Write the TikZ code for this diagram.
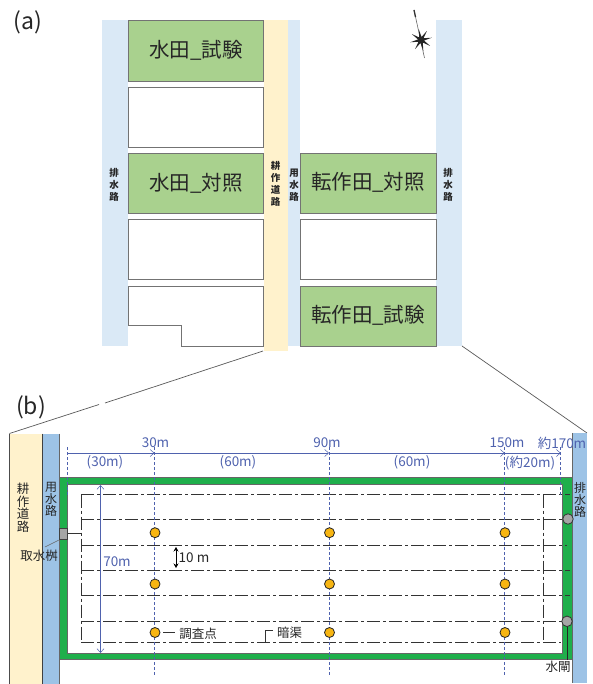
\documentclass[tikz,border=0pt]{standalone}
\usepackage{fontspec}
\setmainfont{Noto Sans CJK JP}
\usetikzlibrary{shapes.geometric,arrows.meta}
\definecolor{drainpale}{HTML}{DAE9F6}
\definecolor{roadpale}{HTML}{FFF2CC}
\definecolor{fieldgreen}{HTML}{A9D18E}
\definecolor{canalblue}{HTML}{9DC3E6}
\definecolor{bundgreen}{HTML}{1FAF4B}
\definecolor{pointorange}{HTML}{F7B512}
\definecolor{dimblue}{HTML}{4F62AE}
\definecolor{textgray}{HTML}{262626}
\tikzset{
  plotbox/.style = {draw=black!55, line width=.9pt, fill=white},
  testbox/.style = {plotbox, fill=fieldgreen},
  plotname/.style = {text=textgray, inner sep=0pt, font=\fontsize{20.5}{20.5}\selectfont},
  stacked/.style = {align=center, text=textgray, inner sep=0pt, font=\fontsize{#1}{#1}\selectfont},
  stackedsmall/.style = {align=center, text=textgray, inner sep=0pt, font=\bfseries\fontsize{9.5}{12}\selectfont},
  panel/.style = {text=textgray, inner sep=0pt, font=\fontsize{23}{23}\selectfont},
  dimtext/.style = {text=dimblue, inner sep=0pt, font=\fontsize{13.5}{13.5}\selectfont},
  dimline/.style = {draw=dimblue, line width=.5pt, -{Straight Barb[length=4pt,width=7pt]}},
  surveyline/.style = {draw=dimblue, line width=.7pt, dash pattern=on 3pt off 2pt},
  pipe/.style = {draw=black!80, line width=.9pt, dash pattern=on 13pt off 3pt on 3pt off 3pt},
  surveypt/.style = {circle, draw=black!85, line width=.8pt, fill=pointorange, minimum size=10pt, inner sep=0pt},
  gate/.style = {circle, draw=black!80, line width=.8pt, fill=black!35, minimum size=10.5pt, inner sep=0pt},
  zoomline/.style = {draw=black!65, line width=.7pt},
  note/.style = {text=textgray, inner sep=0pt, font=\fontsize{12.5}{12.5}\selectfont}
}
\begin{document}
\begin{tikzpicture}[x=1pt, y=-1pt]
  \useasboundingbox (0,0) rectangle (592,684);
  % upper map
  \fill[drainpale] (102,20) rectangle (128,346);
  \fill[drainpale] (288,20) rectangle (300,346);
  \fill[drainpale] (436,20) rectangle (462,346);
  \fill[roadpale] (264,20) rectangle (288,351);
  \draw[testbox] (128,20) rectangle (263.5,81);
  \draw[plotbox] (128,87) rectangle (263.5,147);
  \draw[testbox] (128,153) rectangle (263.5,213);
  \draw[plotbox] (128,219) rectangle (263.5,279);
  \draw[plotbox] (128,286) -- (263.5,286) -- (263.5,346) -- (181.5,346) -- (181.5,325.5) -- (128,325.5) -- cycle;
  \draw[testbox] (300,153) rectangle (436,213);
  \draw[plotbox] (300,219) rectangle (436,279);
  \draw[testbox] (300,286) rectangle (436,346);
  \node[plotname] (paddytest) at (196,50) {水田\_試験};
  \node[plotname] (paddyctrl) at (196,183) {水田\_対照};
  \node[plotname] (uplandctrl) at (368,182) {転作田\_対照};
  \node[plotname] (uplandtest) at (368,315) {転作田\_試験};
  \node[stackedsmall] (drainw) at (114,185) {排\\水\\路};
  \node[stackedsmall] (roadn) at (275.5,184) {耕\\作\\道\\路};
  \node[stackedsmall] (feedn) at (294,185) {用\\水\\路};
  \node[stackedsmall] (draine) at (448,185) {排\\水\\路};
  \node[panel] (panela) at (28,22) {(a)};
  \node[panel] (panelb) at (31,407) {(b)};
  % north mark
  \coordinate (northtop) at (414,10);
  \coordinate (northend) at (424.5,58);
  \draw[black!60, line width=.6pt] (northtop) -- (northend);
  \draw[black!80, line width=1.3pt] (northtop) -- (415.5,17);
  \node[star, star points=8, star point ratio=3.6, shape border rotate=12, fill=black!85, minimum size=22pt, inner sep=0pt] (northstar) at (421,40) {};
  % zoom lines
  \coordinate (zooma) at (263,351);
  \coordinate (zoomb) at (105,403);
  \coordinate (zoomc) at (99,404.5);
  \coordinate (zoomd) at (9.5,433.5);
  \coordinate (zoome) at (462,346);
  \coordinate (zoomf) at (587,433);
  \draw[zoomline] (zooma) -- (zoomb);
  \draw[zoomline] (zoomc) -- (zoomd);
  \draw[zoomline] (zoome) -- (zoomf);
  % lower plot
  \fill[roadpale] (9.5,433.5) rectangle (42.5,684);
  \fill[canalblue] (43,433.5) rectangle (59,684);
  \fill[canalblue] (572,433) rectangle (587,683);
  \draw[black!70, line width=.8pt] (9.5,433.5) -- (9.5,684);
  \draw[black!75, line width=1.2pt] (42.5,433.5) -- (42.5,684);
  \draw[black!60, line width=.7pt] (59,433.5) -- (59,684);
  \draw[black!60, line width=.7pt] (572,433) -- (572,683);
  \draw[black!60, line width=.7pt, fill=bundgreen] (59,477) rectangle (572,659.5);
  \draw[black!60, line width=.7pt, fill=white] (67.7,484) rectangle (562,653);
  \foreach \yy/\xend in {494.7/570,519/564,545/567,570.3/570,595.3/570,621.3/563,642.3/561}
    \draw[pipe] (81,\yy) -- (\xend,\yy);
  \draw[pipe] (81,494.7) -- (81,642.3);
  \draw[pipe] (543,494.7) -- (543,642.3);
  % survey lines
  \coordinate (dim0) at (67,453);
  \coordinate (dim1) at (154.5,453);
  \coordinate (dim2) at (329,453);
  \coordinate (dim3) at (504.7,453);
  \coordinate (dim4) at (560.7,453);
  \draw[surveyline] (67,447) -- (67,495);
  \draw[surveyline] (154.5,447) -- (154.5,675);
  \draw[surveyline] (329,447) -- (329,675);
  \draw[surveyline] (504.7,447) -- (504.7,675);
  \draw[surveyline] (560.7,447) -- (560.7,495);
  \draw[dimline] (dim0) -- (dim1);
  \draw[dimline] (dim1) -- (dim2);
  \draw[dimline] (dim2) -- (dim3);
  \draw[dimline] (dim3) -- (dim4);
  \node[dimtext] (d30) at (155.5,443) {30m};
  \node[dimtext] (d90) at (327,443) {90m};
  \node[dimtext] (d150) at (507,443) {150m};
  \node[dimtext] (d170) at (562,443) {約170m};
  \node[dimtext] (g30) at (105,462) {(30m)};
  \node[dimtext] (g60a) at (238,462) {(60m)};
  \node[dimtext] (g60b) at (412,462) {(60m)};
  \node[dimtext] (g20) at (530,463) {(約20m)};
  \coordinate (widthtop) at (100.5,485);
  \coordinate (widthend) at (100.5,653);
  \draw[dimline, {Straight Barb[length=4pt,width=7pt]}-{Straight Barb[length=4pt,width=7pt]}] (widthtop) -- (widthend);
  \node[dimtext] (d70) at (117,562) {70m};
  \coordinate (gaptop) at (176,547);
  \coordinate (gapend) at (176,568);
  \draw[black, line width=.7pt, {Stealth[length=4.5pt,width=5pt]}-{Stealth[length=4.5pt,width=5pt]}] (gaptop) -- (gapend);
  \node[note, font=\fontsize{13.5}{13.5}\selectfont] (d10) at (194,558) {10 m};
  % intake
  \node[draw=black!75, line width=.8pt, fill=black!35, minimum width=8.5pt, minimum height=11.5pt, inner sep=0pt] (intake) at (63.3,534) {};
  \coordinate (pipestart) at (81,533);
  \draw[black!80, line width=.8pt] (intake.east |- pipestart) -- (pipestart);
  \node[note] (intakelbl) at (39,556) {取水桝};
  \draw[black!60, line width=.5pt] (intake.south west) -- (45,547);
  % points
  \foreach \xx in {155,329.5,505}
    \foreach \yy/\rr in {532.7/a,584/b,632.5/c}
      \node[surveypt] (pt\xx\rr) at (\xx,\yy) {};
  \node[note] (surveylbl) at (198,634) {調査点};
  \coordinate (surveyend) at (175,632.5);
  \draw[black!80, line width=.8pt] (163,632.5) -- (surveyend);
  \node[note, anchor=west] (drainlbl) at (277,633) {暗渠};
  \coordinate (drainfoot) at (265,642.3);
  \coordinate (drainknee) at (273,630.7);
  \draw[black!80, line width=.8pt] (drainfoot) |- (drainknee);
  % gates
  \node[gate] (gateup) at (568,519) {};
  \node[gate] (gatedown) at (567,621.3) {};
  \node[note, anchor=north] (gatelbl) at (558,661) {水閘};
  \coordinate (gatefoot) at (567,660);
  \draw[black!85, line width=.7pt] (gatedown) -- (gatefoot);
  % canal names
  \node[stacked=12.5] (roadlbl) at (23,507.5) {耕\\作\\道\\路};
  \node[stacked=12] (feedlbl) at (51,499.5) {用\\水\\路};
  \node[stacked=12] (drainlbl2) at (580,500) {排\\水\\路};
\end{tikzpicture}
\end{document}
